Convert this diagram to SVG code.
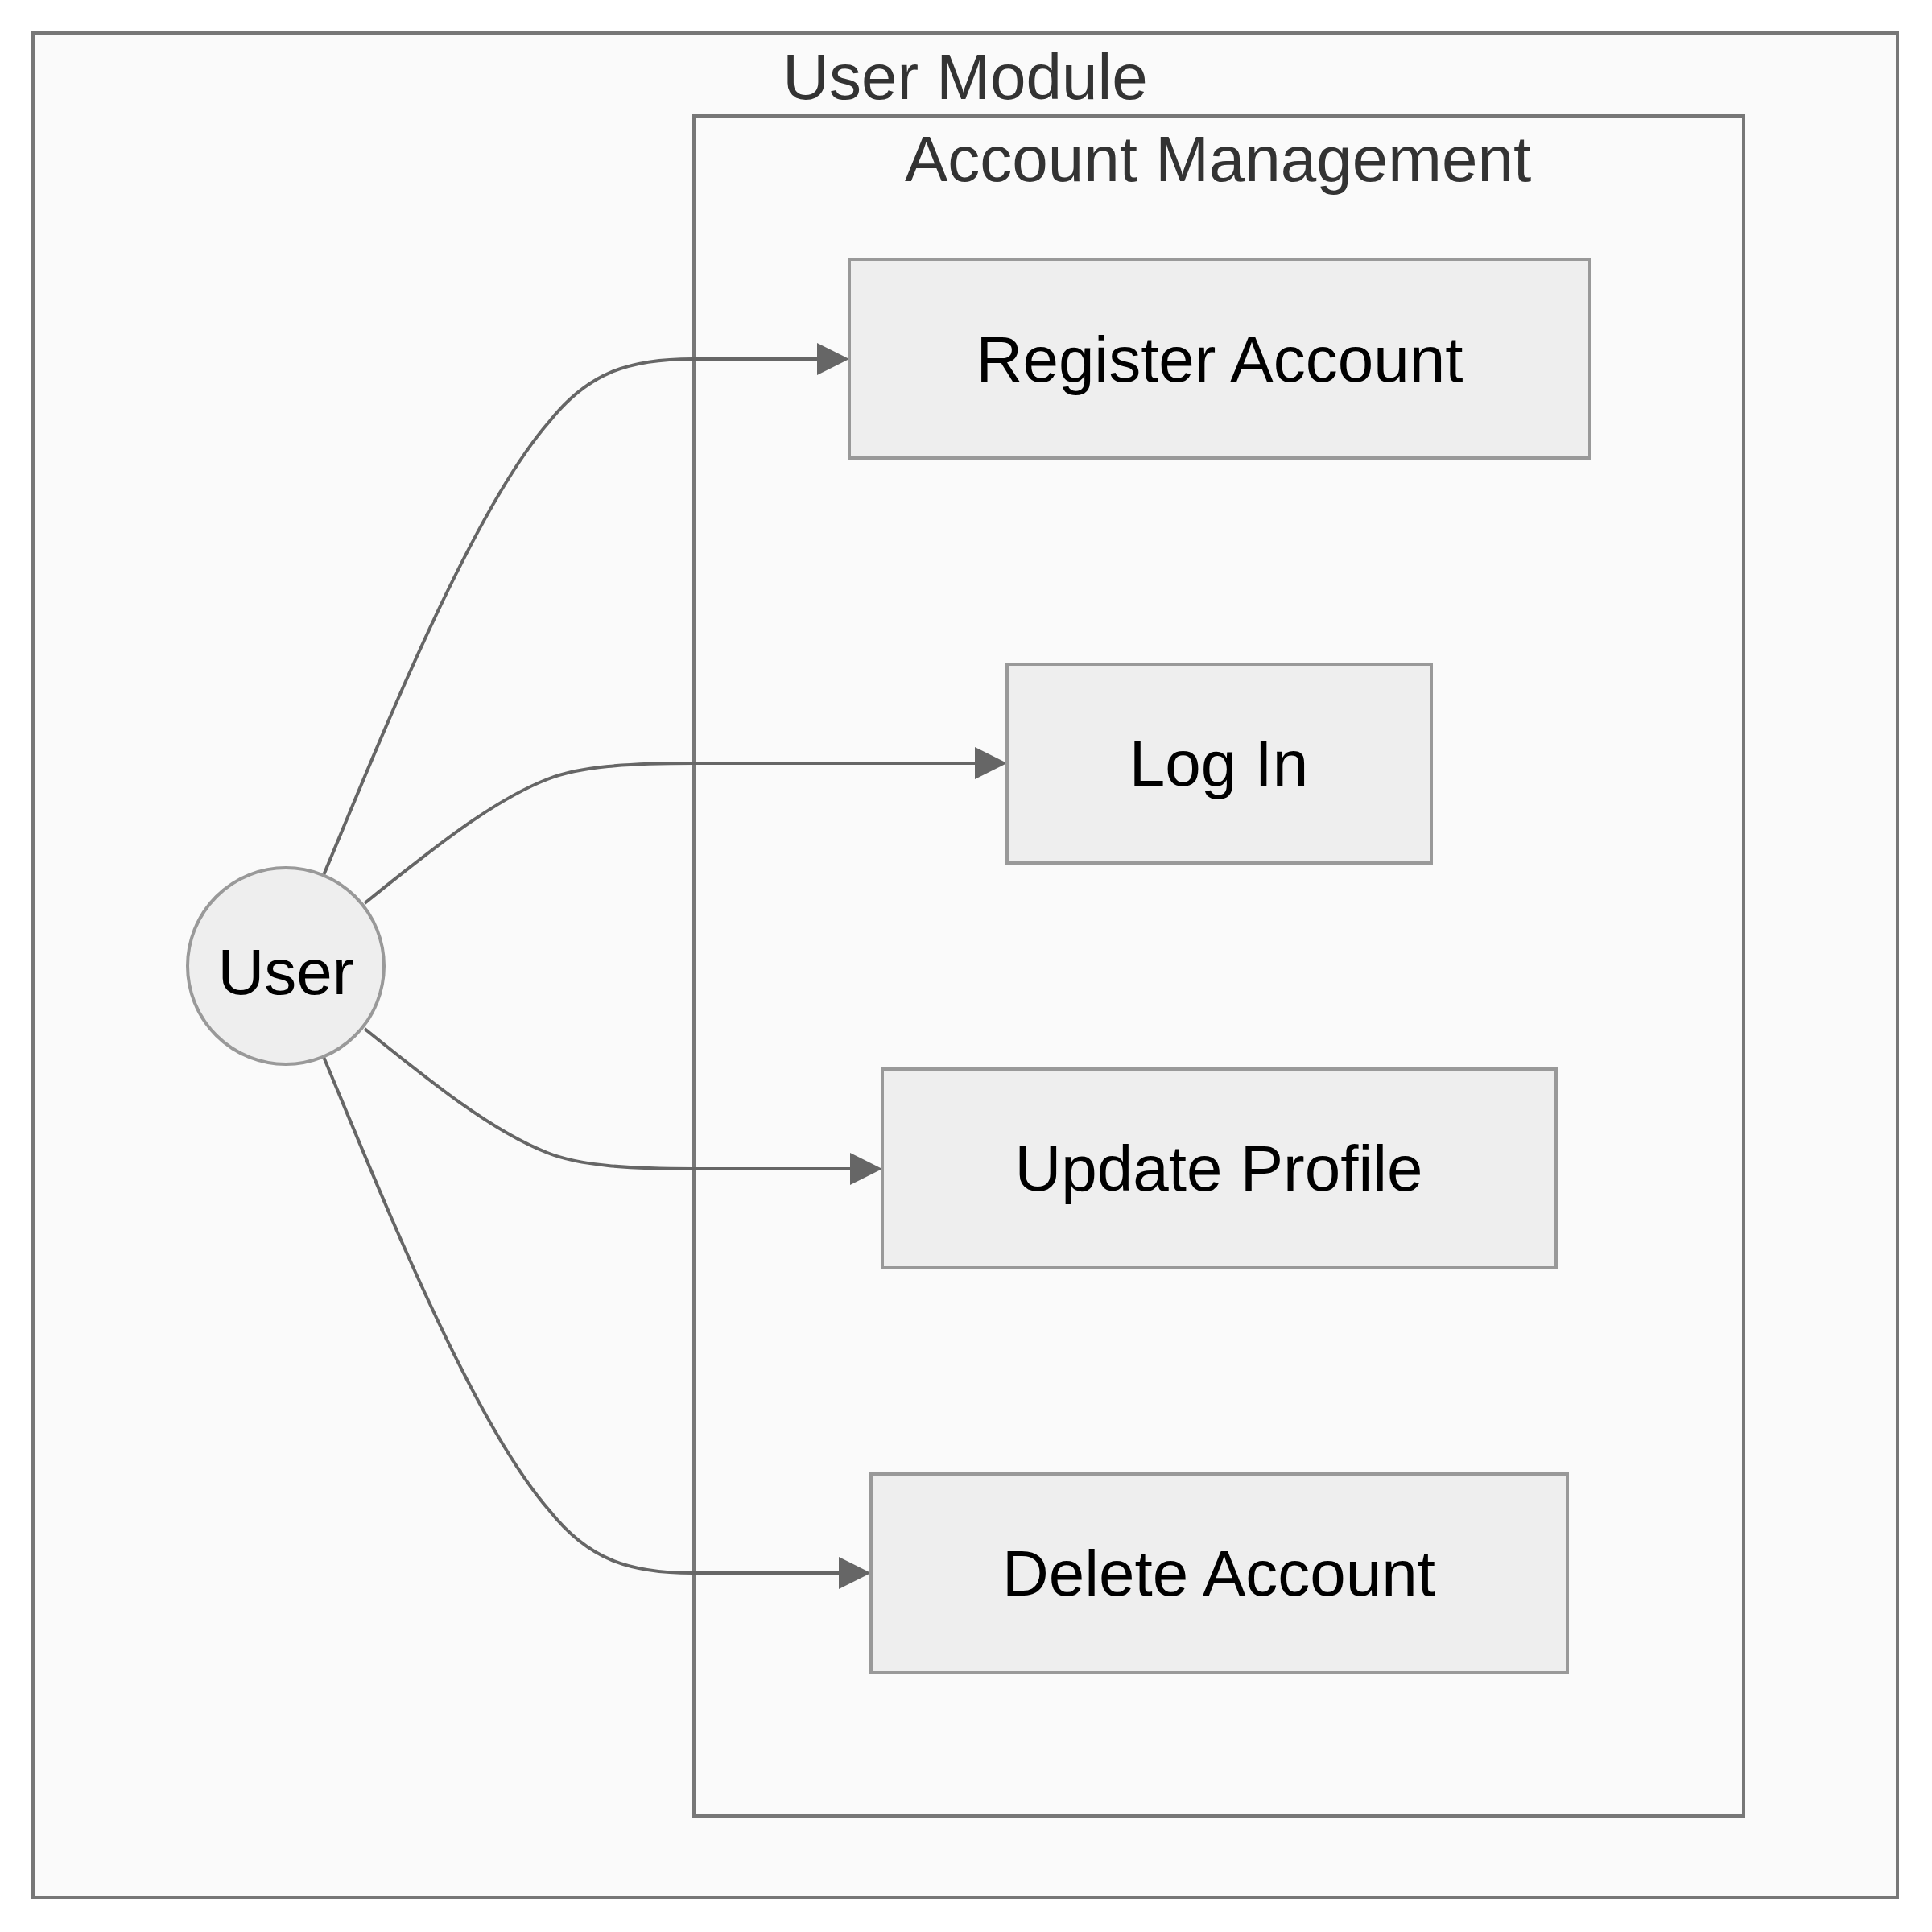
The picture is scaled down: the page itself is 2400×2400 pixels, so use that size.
<svg xmlns="http://www.w3.org/2000/svg" width="2400" height="2400" viewBox="0 0 2400 2400">
<style>
.cluster{fill:#fafafa;stroke:#777;stroke-width:4}
.ctitle{font-family:"Liberation Sans",Arial,sans-serif;font-size:80px;fill:#333;text-anchor:middle}
.node{fill:#eeeeee;stroke:#999;stroke-width:4}
.label{font-family:"Liberation Sans",Arial,sans-serif;font-size:80px;fill:#000;text-anchor:middle}
.edge{fill:none;stroke:#666;stroke-width:4}
</style>
<defs>
<marker id="arrow" viewBox="0 0 10 10" refX="1" refY="5" markerUnits="userSpaceOnUse" markerWidth="40" markerHeight="41" orient="auto">
<path d="M0,0 L10,5 L0,10 z" fill="#666"/>
</marker>
</defs>
<rect width="2400" height="2400" fill="#ffffff"/>
<g id="cluster-user-module">
<rect class="cluster" x="41" y="41" width="2316" height="2316"/>
<text class="ctitle" x="1199" y="123">User Module</text>
</g>
<g id="cluster-account-management">
<rect class="cluster" x="862" y="144" width="1304" height="2112"/>
<text class="ctitle" x="1513" y="225">Account Management</text>
</g>
<g id="connectors">
<path class="edge" marker-end="url(#arrow)" d="M402,1087 C470,925 585,635 683,523 C730,464 780,446 860,446 L1019,446"/>
<path class="edge" marker-end="url(#arrow)" d="M453,1122 C530,1060 610,995 680,968 C720,952 780,948 862,948 L1215,948"/>
<path class="edge" marker-end="url(#arrow)" d="M453,1278 C530,1340 610,1405 680,1432 C720,1448 780,1452 862,1452 L1060,1452"/>
<path class="edge" marker-end="url(#arrow)" d="M402,1313 C470,1475 585,1765 683,1877 C730,1936 780,1954 860,1954 L1046,1954"/>
</g>
<g id="node-user">
<circle class="node" cx="355" cy="1200" r="122"/>
<text class="label" x="355" y="1235">User</text>
</g>
<g id="node-register">
<rect class="node" x="1055" y="322" width="920" height="247"/>
<text class="label" x="1515" y="474">Register Account</text>
</g>
<g id="node-login">
<rect class="node" x="1251" y="825" width="527" height="247"/>
<text class="label" x="1514" y="976">Log In</text>
</g>
<g id="node-update">
<rect class="node" x="1096" y="1328" width="837" height="247"/>
<text class="label" x="1514" y="1479">Update Profile</text>
</g>
<g id="node-delete">
<rect class="node" x="1082" y="1831" width="865" height="247"/>
<text class="label" x="1514" y="1982">Delete Account</text>
</g>
</svg>
